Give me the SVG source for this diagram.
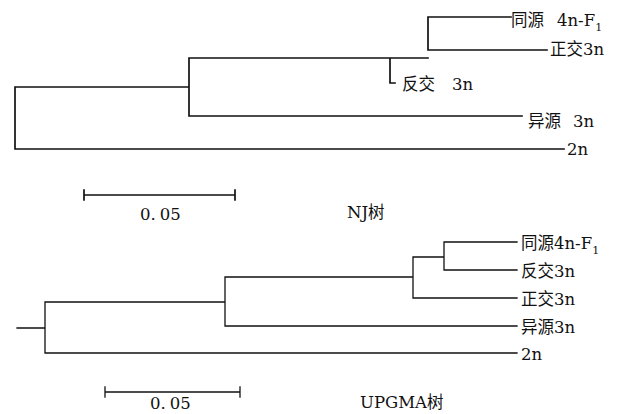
<svg xmlns="http://www.w3.org/2000/svg" width="627" height="414" viewBox="0 0 627 414">
<style>
.br{fill:none;stroke:#111;stroke-width:1.7;stroke-linecap:square}
.br2{fill:none;stroke:#111;stroke-width:1.3;stroke-linecap:square}
.t{font-family:"DejaVu Serif","Noto Sans CJK SC",serif;font-size:16.5px;fill:#111}
.s{font-size:11px}
</style>
<rect width="627" height="414" fill="#fff"/>
<g id="connectors">
<path class="br" d="M15,87 V149 M15,87 H189 M189,58 V116 M189,58 H390 M390,58 V83 H395 M390,58 H428 M428,17 V50 M428,17 H511 M428,50 H547 M189,116 H522 M15,149 H564"/>
<path class="br" d="M84,195 H235 M84,190 V200 M235,190 V200"/>
<path class="br2" d="M17,328 H45 M45,302 V353 M45,302 H225 M225,277 V326 M225,277 H413 M413,257 V298 M413,257 H444 M444,242 V270 M444,242 H517 M444,270 H517 M413,298 H517 M225,326 H517 M45,353 H517"/>
<path class="br2" d="M105,392 H240 M105,387 V397 M240,387 V397"/>
</g>
<g id="nj-homo4n"><text class="t" y="26"><tspan x="511">同源</tspan><tspan x="557">4n-F</tspan><tspan class="s" dy="5">1</tspan></text></g>
<g id="nj-zheng3n"><text class="t" x="550" y="55">正交3n</text></g>
<g id="nj-fan3n"><text class="t" y="90"><tspan x="402">反交</tspan><tspan x="452">3n</tspan></text></g>
<g id="nj-yi3n"><text class="t" y="127"><tspan x="528">异源</tspan><tspan x="573">3n</tspan></text></g>
<g id="nj-2n"><text class="t" x="567" y="155">2n</text></g>
<g id="nj-scale"><text class="t" x="140" y="220">0.<tspan dx="4">05</tspan></text></g>
<g id="nj-title"><text class="t" x="347" y="218">NJ树</text></g>
<g id="up-homo4n"><text class="t" x="521" y="249">同源4n-F<tspan class="s" dy="5">1</tspan></text></g>
<g id="up-fan3n"><text class="t" x="521" y="277">反交3n</text></g>
<g id="up-zheng3n"><text class="t" x="521" y="305">正交3n</text></g>
<g id="up-yi3n"><text class="t" x="521" y="333">异源3n</text></g>
<g id="up-2n"><text class="t" x="521" y="360">2n</text></g>
<g id="up-scale"><text class="t" x="150" y="409">0.<tspan dx="4">05</tspan></text></g>
<g id="up-title"><text class="t" x="360" y="408">UPGMA树</text></g>
</svg>
